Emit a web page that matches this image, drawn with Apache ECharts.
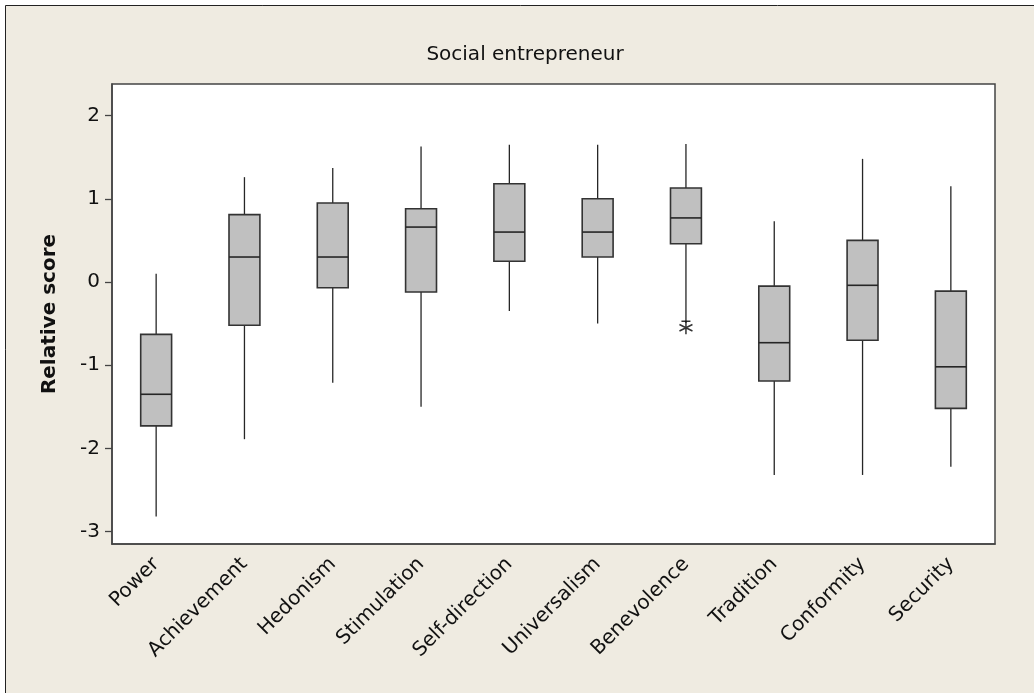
<!DOCTYPE html>
<html>
<head>
<meta charset="utf-8">
<script src="https://cdn.jsdelivr.net/npm/echarts@6/dist/echarts.min.js"></script>
<style>
  html, body { margin: 0; padding: 0; background: #fff; }
  #chart { width: 1034px; height: 693px; }
</style>
</head>
<body>
<div id="chart"></div>
<script>
// values
var categories = ['Power', 'Achievement', 'Hedonism', 'Stimulation', 'Self-direction',
  'Universalism', 'Benevolence', 'Tradition', 'Conformity', 'Security']
var whiskerLow = [-2.82, -1.89, -1.21, -1.50, -0.35, -0.50, -0.49, -2.32, -2.32, -2.22]
var q1 = [-1.73, -0.52, -0.07, -0.12, 0.25, 0.30, 0.46, -1.19, -0.70, -1.52]
var median = [-1.35, 0.30, 0.30, 0.66, 0.60, 0.60, 0.77, -0.73, -0.04, -1.02]
var q3 = [-0.63, 0.81, 0.95, 0.88, 1.18, 1.00, 1.13, -0.05, 0.50, -0.11]
var whiskerHigh = [0.10, 1.26, 1.37, 1.63, 1.65, 1.65, 1.66, 0.73, 1.48, 1.15]
var outliers = [['Benevolence', -0.55]]
var yTicks = [-3, -2, -1, 0, 1, 2]

var boxData = categories.map(function (c, i) {
  return [i, whiskerLow[i], q1[i], median[i], q3[i], whiskerHigh[i]]
})

var font = 'DejaVu Sans'
var chart = echarts.init(document.getElementById('chart'))

function renderBox(params, api) {
  var x = api.value(0)
  var lo = api.coord([x, api.value(1)])
  var b1 = api.coord([x, api.value(2)])
  var md = api.coord([x, api.value(3)])
  var b3 = api.coord([x, api.value(4)])
  var hi = api.coord([x, api.value(5)])
  var w = api.size([1, 0])[0] * 0.35
  var line = { stroke: '#262626', lineWidth: 1.3 }
  return {
    type: 'group',
    children: [
      { type: 'line', shape: { x1: hi[0], y1: hi[1], x2: b3[0], y2: b3[1] }, style: line },
      { type: 'line', shape: { x1: b1[0], y1: b1[1], x2: lo[0], y2: lo[1] }, style: line },
      {
        type: 'rect',
        shape: { x: b3[0] - w / 2, y: b3[1], width: w, height: b1[1] - b3[1] },
        style: { fill: '#c0c0c0', stroke: '#333', lineWidth: 1.6 }
      },
      { type: 'line', shape: { x1: md[0] - w / 2, y1: md[1], x2: md[0] + w / 2, y2: md[1] }, style: { stroke: '#262626', lineWidth: 1.6 } }
    ]
  }
}

var option = {
  backgroundColor: '#fff',
  animation: false,
  graphic: [{
    type: 'rect',
    z: -10,
    shape: { x: 5.5, y: 5.5, width: 1100, height: 800 },
    style: { fill: '#efebe1', stroke: '#222', lineWidth: 1 }
  }],
  title: {
    text: 'Social entrepreneur',
    left: 520,
    textAlign: 'center',
    top: 40,
    textStyle: { fontFamily: font, fontSize: 20, fontWeight: 'normal', color: '#111' }
  },
  grid: { left: 112, right: 39, top: 84, bottom: 149, show: true, backgroundColor: '#fff', borderColor: '#444', borderWidth: 1.5 },
  xAxis: {
    type: 'category',
    data: categories,
    boundaryGap: true,
    axisLine: { onZero: false, lineStyle: { color: '#444', width: 1.5 } },
    axisTick: { alignWithLabel: true, length: 6, lineStyle: { color: '#444', width: 1.3 } },
    axisLabel: { rotate: 45, interval: 0, margin: 17, fontFamily: font, fontSize: 20, color: '#111' },
    splitLine: { show: false }
  },
  yAxis: {
    type: 'value',
    min: -3.15,
    max: 2.38,
    name: 'Relative score',
    nameLocation: 'middle',
    nameGap: 52,
    nameTextStyle: { fontFamily: font, fontSize: 20, fontWeight: 'bold', color: '#111' },
    axisLine: { show: true, onZero: false, lineStyle: { color: '#444', width: 1.5 } },
    axisTick: { show: true, length: 7, customValues: yTicks, lineStyle: { color: '#444', width: 1.3 } },
    axisLabel: { customValues: yTicks, margin: 12, fontFamily: font, fontSize: 20, color: '#111' },
    splitLine: { show: false }
  },
  series: [
    {
      type: 'custom',
      renderItem: renderBox,
      data: boxData,
      encode: { x: 0, y: [1, 2, 3, 4, 5] }
    },
    {
      type: 'scatter',
      data: outliers,
      symbol: 'path://M0,-10 L0,10 M-8.66,-5 L8.66,5 M-8.66,5 L8.66,-5 M-6,-10 L6,-10',
      symbolSize: 13,
      itemStyle: { color: 'none', borderColor: '#000', borderWidth: 1.5 }
    }
  ]
}
chart.setOption(option)
</script>
</body>
</html>
